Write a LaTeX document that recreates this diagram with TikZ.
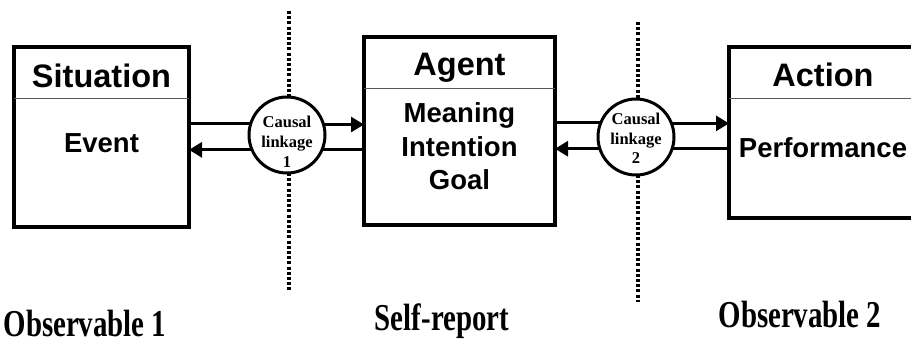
\documentclass[tikz,border=0pt]{standalone}
\usepackage{fontspec}
\setmainfont{Liberation Serif}
\newfontfamily\arialf{Liberation Sans}
\usetikzlibrary{arrows.meta}
\begin{document}
\begin{tikzpicture}[x=1pt,y=-1pt,
  box/.style={draw,line width=3.3pt,rectangle,inner sep=0pt,outer sep=0pt},
  div/.style={line width=1pt,black!65},
  head/.style={anchor=base,inner sep=0pt,font=\arialf\bfseries\fontsize{32.5}{36}\selectfont},
  sub/.style={anchor=base,inner sep=0pt,font=\arialf\bfseries\fontsize{27.5}{30}\selectfont},
  link/.style={draw,circle,line width=3pt,minimum size=76pt,inner sep=0pt,outer sep=0pt},
  ltext/.style={anchor=base,inner sep=0pt,font=\bfseries\fontsize{16.5}{20}\selectfont},
  obs/.style={anchor=base,inner sep=0pt,font=\bfseries\fontsize{38}{42}\selectfont},
  conn/.style={line width=2.8pt},
  arr/.style={conn,-{Triangle[length=13pt,width=15pt]}},
  dotline/.style={line width=3.4pt,dash pattern=on 3pt off 2.2pt}
]
\useasboundingbox (0,0) rectangle (911,351);
\clip (0,0) rectangle (911,351);

% boxes
\node[box,minimum width=175pt,minimum height=180pt] (sit) at (101.5,137) {};
\node[box,minimum width=191pt,minimum height=188pt] (agent) at (459.5,131) {};
\node[box,minimum width=188pt,minimum height=171pt] (act) at (823,132.5) {};
\draw[div] (sit.west |- 0,98) -- (sit.east |- 0,98);
\draw[div] (agent.west |- 0,88) -- (agent.east |- 0,88);
\draw[div] (act.west |- 0,98) -- (act.east |- 0,98);

% box texts
\node[head] (sitT) at (101.5,87) {Situation};
\node[sub] (evT) at (101.5,152) {Event};
\node[head] (agT) at (459.5,75) {Agent};
\node[sub] (mT) at (459.5,122) {Meaning};
\node[sub] (iT) at (459.5,156) {Intention};
\node[sub] (gT) at (459.5,189) {Goal};
\node[head] (acT) at (823,86) {Action};
\node[sub] (pT) at (823,157) {Performance};

% causal linkage circles
\node[link] (c1) at (287,135) {};
\node[link] (c2) at (636,137) {};
\node[ltext] (c1a) at (287,127) {Causal};
\node[ltext] (c1b) at (287,147) {linkage};
\node[ltext] (c1c) at (287,167) {1};
\node[ltext] (c2a) at (636,124) {Causal};
\node[ltext] (c2b) at (636,144) {linkage};
\node[ltext] (c2c) at (636,163) {2};

% dotted separators
\coordinate (d1a) at (289,11);
\coordinate (d1b) at (289,292);
\coordinate (d2a) at (638,22);
\coordinate (d2b) at (638,302);
\draw[dotline] (d1a) -- (d1a |- c1.north);
\draw[dotline] (d1b |- c1.south) -- (d1b);
\draw[dotline] (d2a) -- (d2a |- c2.north);
\draw[dotline] (d2b |- c2.south) -- (d2b);

% connectors left
\draw[conn] (sit.east |- c1.163.2) -- (c1.163.2);
\draw[arr] (c1.16.8) -- (c1.16.8 -| agent.west);
\draw[conn] (agent.west |- c1.-23.25) -- (c1.-23.25);
\draw[arr] (c1.203.25) -- (c1.203.25 -| sit.east);

% connectors right
\draw[conn] (agent.east |- c2.158.4) -- (c2.158.4);
\draw[arr] (c2.21.6) -- (c2.21.6 -| act.west);
\draw[conn] (act.west |- c2.-18.4) -- (c2.-18.4);
\draw[arr] (c2.198.4) -- (c2.198.4 -| agent.east);

% bottom labels
\node[obs] (o1) at (85,336) {\scalebox{0.76}[1]{Observable 1}};
\node[obs] (sr) at (442,330) {\scalebox{0.76}[1]{Self-report}};
\node[obs] (o2) at (800,327) {\scalebox{0.76}[1]{Observable 2}};
\end{tikzpicture}
\end{document}
